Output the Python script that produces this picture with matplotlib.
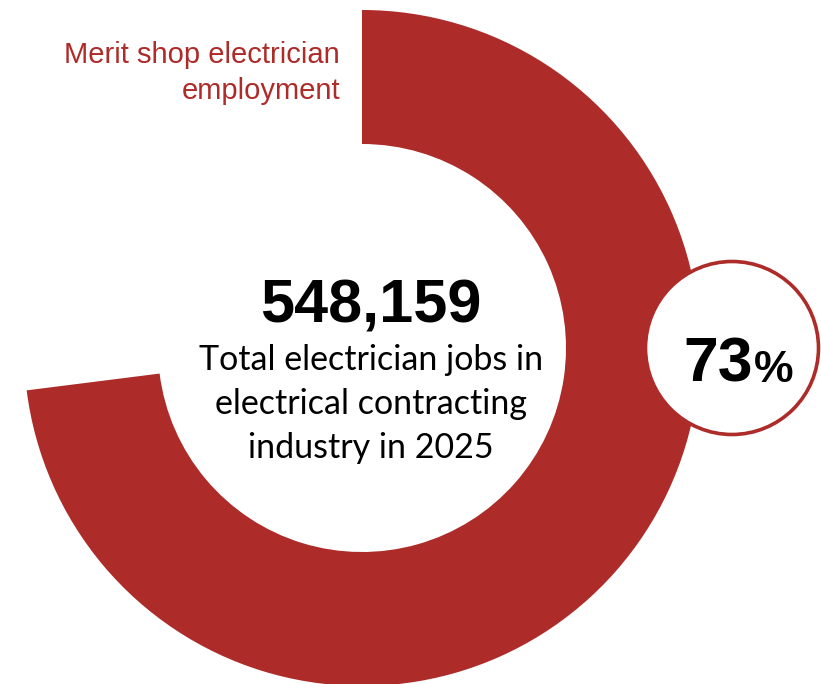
import matplotlib
matplotlib.use("Agg")
import matplotlib.pyplot as plt
from matplotlib.patches import Circle

W, H = 821, 684
RED = "#AD2B28"

# data
shares = [73, 27]
total_jobs = "548,159"
share_label = "73"
series_lines = ["Merit shop electrician", "employment"]
center_lines = ["Total electrician jobs in", "electrical contracting", "industry in 2025"]

fig = plt.figure(figsize=(W / 100, H / 100), dpi=100, facecolor="white")
ax = fig.add_axes([0, 0, 1, 1])

# donut (pixel coords, y up)
cx, cy = 362, H - 348
ax.pie(shares, colors=[RED, "none"], startangle=90, counterclock=False,
       center=(cx, cy), radius=338,
       wedgeprops=dict(width=134, linewidth=0))

ax.set_xlim(0, W)
ax.set_ylim(0, H)
ax.set_aspect("equal")
ax.axis("off")

# headline number + caption
ax.text(371, H - 322, total_jobs, ha="center", va="baseline",
        fontsize=44, fontweight="bold", family="Liberation Sans", color="black")
for i, line in enumerate(center_lines):
    ax.text(371, H - 370 - i * 44, line, ha="center", va="baseline",
            fontsize=24.5, family="Lato", color="black")

# series label
for i, line in enumerate(series_lines):
    ax.text(340, H - 63 - i * 36, line, ha="right", va="baseline",
            fontsize=21, family="Liberation Sans", color=RED)

# percentage bubble
ax.add_patch(Circle((732, H - 348), 86.5, facecolor="white", edgecolor=RED,
                    linewidth=2.6, zorder=5))
ax.text(753, H - 382, share_label, ha="right", va="baseline", fontsize=45,
        fontweight="bold", family="Liberation Sans", color="black", zorder=6)
ax.text(754, H - 382, "%", ha="left", va="baseline", fontsize=32,
        fontweight="bold", family="Liberation Sans", color="black", zorder=6)

fig.savefig("out.png", dpi=100, facecolor="white")
